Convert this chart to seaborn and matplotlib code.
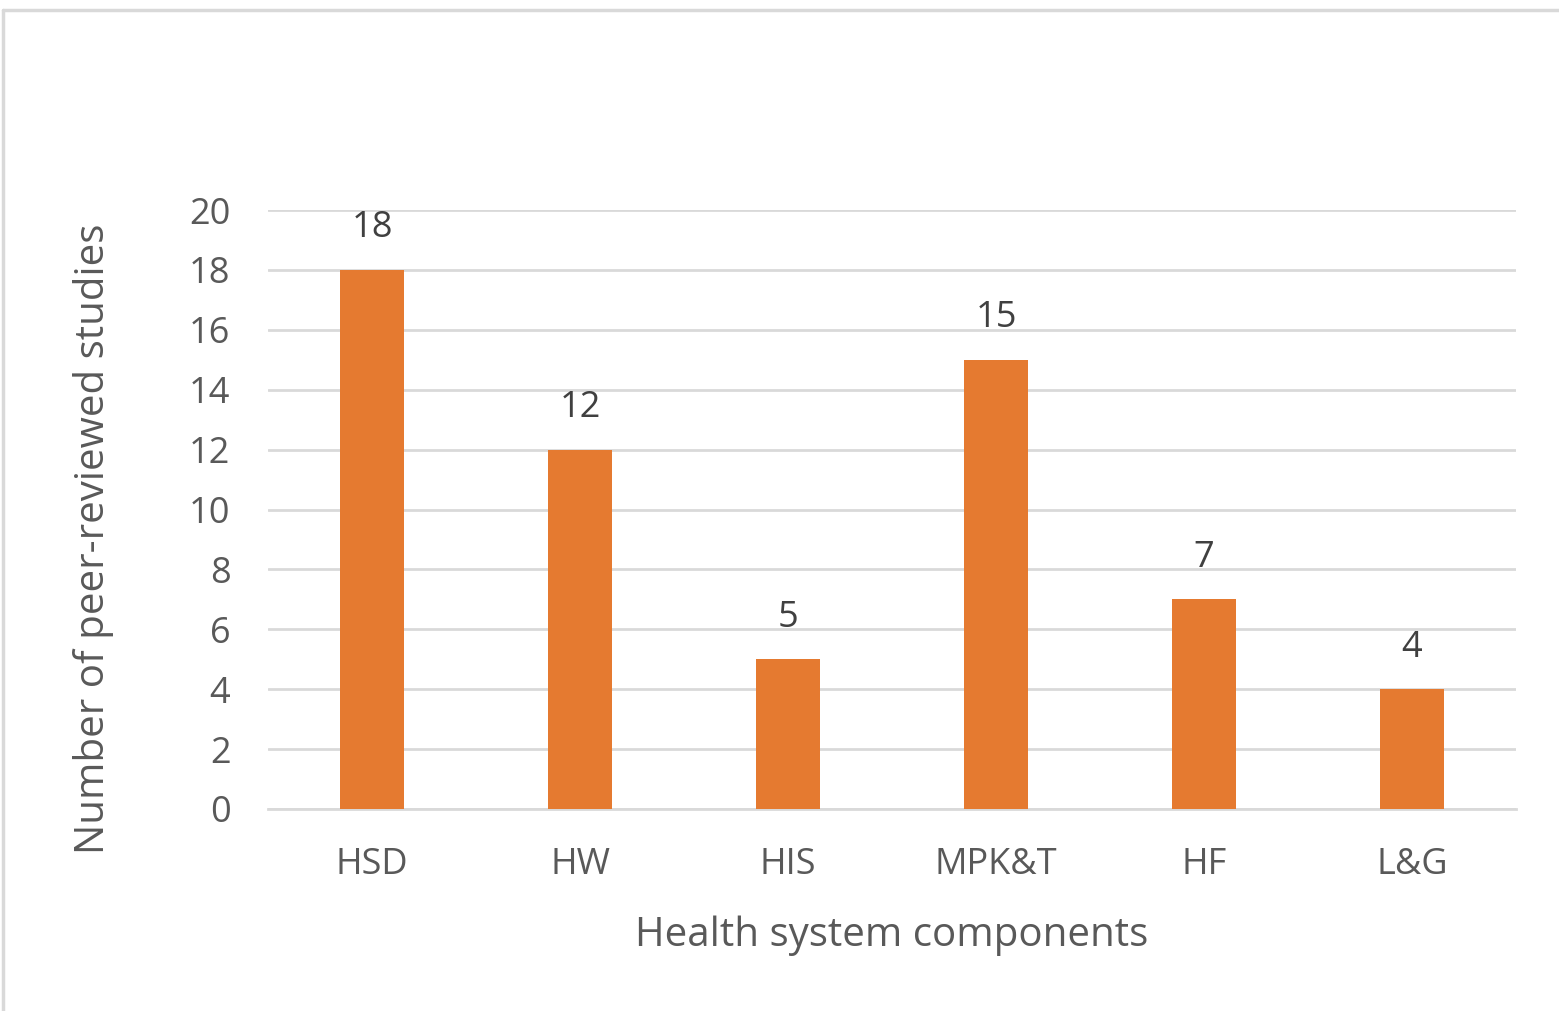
import matplotlib
matplotlib.use("Agg")
import matplotlib.pyplot as plt
import seaborn as sns
import pandas as pd
from matplotlib.lines import Line2D

components = ["HSD", "HW", "HIS", "MPK&T", "HF", "L&G"]
studies = [18, 12, 5, 15, 7, 4]
y_ticks = [0, 2, 4, 6, 8, 10, 12, 14, 16, 18, 20]

df = pd.DataFrame({"component": components, "studies": studies})

sns.set_theme(style="white")
plt.rcParams["font.family"] = ["Open Sans", "DejaVu Sans"]

W, H = 1559, 1011
fig = plt.figure(figsize=(W / 100, H / 100), dpi=100)
ax = fig.add_axes([268 / W, 1 - 809 / H, (1516 - 268) / W, (809 - 210) / H])

sns.barplot(data=df, x="component", y="studies", color="#E57A30",
            width=0.31, saturation=1, linewidth=0, ax=ax, zorder=3)

ax.set_ylim(0, 20)
ax.set_yticks(y_ticks)
ax.set_xlim(-0.5, len(components) - 0.5)
ax.yaxis.grid(True, color="#D9D9D9", linewidth=2, zorder=0)
ax.set_axisbelow(True)
for s in ["top", "right", "left"]:
    ax.spines[s].set_visible(False)
ax.spines["bottom"].set_color("#D9D9D9")
ax.spines["bottom"].set_linewidth(2)

ax.tick_params(axis="y", length=0, pad=27, labelsize=26, labelcolor="#595959")
ax.tick_params(axis="x", length=0, pad=27, labelsize=26, labelcolor="#595959")

for c in ax.containers:
    ax.bar_label(c, padding=17, fontsize=26, color="#404040")

ax.set_xlabel("Health system components", fontsize=29, color="#595959", labelpad=24)
ax.set_ylabel("Number of peer-reviewed studies", fontsize=29, color="#595959")
# label sits a little below the middle of the plot area, as in the original
ax.yaxis.set_label_coords(-0.123, 0.451)

# chart-area border (top and left visible)
fig.add_artist(Line2D([3 / W, 1.0], [1 - 10 / H, 1 - 10 / H], color="#D9D9D9", linewidth=2.5))
fig.add_artist(Line2D([3 / W, 3 / W], [0.0, 1 - 10 / H], color="#D9D9D9", linewidth=2.5))

fig.savefig("out.png", dpi=100)
